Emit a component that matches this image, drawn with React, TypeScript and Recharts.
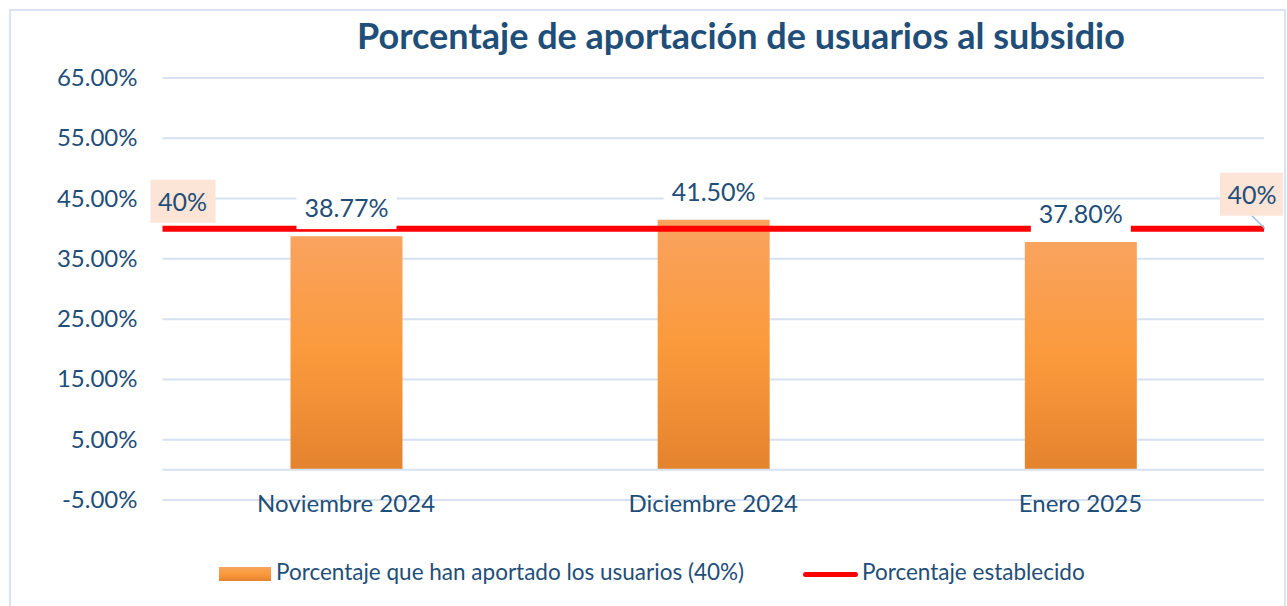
import React from "react";
import {
  BarChart,
  Bar,
  XAxis,
  YAxis,
  CartesianGrid,
  ReferenceLine,
  LabelList,
  Legend,
} from "recharts";

const meses = ["Noviembre 2024", "Diciembre 2024", "Enero 2025"];
const aportado = [38.77, 41.5, 37.8];
const establecido = [40];
const yTicks = [-5, 5, 15, 25, 35, 45, 55, 65];

const data = meses.map((mes, i) => ({ mes, aportado: aportado[i] }));

const azul = "#1F4E79";
const grid = "#D6E1F2";
const fuente = "Lato, 'Open Sans', sans-serif";

function EtiquetaBarra(props: any) {
  const { x, y, width, value } = props;
  const cx = x + width / 2;
  return (
    <g>
      <rect x={cx - 50} y={y - 41} width={100} height={34} fill="#FFFFFF" />
      <text
        x={cx}
        y={y - 28}
        dy={9}
        textAnchor="middle"
        fill={azul}
        fontSize={25}
        fontFamily={fuente}
      >
        {value.toFixed(2) + "%"}
      </text>
    </g>
  );
}

function EtiquetaMeta(props: any) {
  const { viewBox } = props;
  const x1 = viewBox.x;
  const x2 = viewBox.x + viewBox.width;
  const y = viewBox.y;
  const txt = establecido[0] + "%";
  return (
    <g>
      <rect x={x1 - 12} y={y - 49} width={65} height={43} fill="#FCE4D6" />
      <text x={x1 + 20} y={y - 27} dy={9} textAnchor="middle" fill={azul} fontSize={25} fontFamily={fuente}>
        {txt}
      </text>
      <line x1={x2 - 12} y1={y - 13} x2={x2 + 1} y2={y} stroke="#9DC3E6" strokeWidth={1.5} />
      <rect x={x2 - 44} y={y - 56} width={63} height={43} fill="#FCE4D6" />
      <text x={x2 - 12} y={y - 34} dy={9} textAnchor="middle" fill={azul} fontSize={25} fontFamily={fuente}>
        {txt}
      </text>
    </g>
  );
}

function TickX(props: any) {
  const { x, y, payload } = props;
  return (
    <text x={x} y={y} dy={12} textAnchor="middle" fill={azul} fontSize={24} fontFamily={fuente}>
      {payload.value}
    </text>
  );
}

function TickY(props: any) {
  const { x, y, payload } = props;
  return (
    <text x={x} y={y} dy={8} textAnchor="end" fill={azul} fontSize={24} fontFamily={fuente}>
      {payload.value.toFixed(2) + "%"}
    </text>
  );
}

function Leyenda() {
  return (
    <div style={{ position: "relative", height: 36, fontFamily: fuente, fontSize: 22.5, color: azul }}>
      <div
        style={{
          position: "absolute",
          left: 219,
          top: 9,
          width: 52,
          height: 14,
          background: "linear-gradient(#F9A35F, #FB9A3C 50%, #E4832E)",
        }}
      />
      <span style={{ position: "absolute", left: 276, top: 0, whiteSpace: "nowrap" }}>
        Porcentaje que han aportado los usuarios (40%)
      </span>
      <div
        style={{
          position: "absolute",
          left: 803,
          top: 14,
          width: 55,
          height: 5,
          borderRadius: 3,
          background: "#FF0000",
        }}
      />
      <span style={{ position: "absolute", left: 862, top: 0, whiteSpace: "nowrap" }}>
        Porcentaje establecido
      </span>
    </div>
  );
}

export default function App() {
  return (
    <div
      style={{
        position: "absolute",
        left: 0,
        top: 0,
        width: 1287,
        height: 606,
        background: "#FFFFFF",
        overflow: "hidden",
      }}
    >
      <div
        style={{
          position: "absolute",
          left: 9,
          top: 9,
          width: 1273,
          height: 620,
          border: "2px solid #DAE3F3",
        }}
      />
      <div
        style={{
          position: "absolute",
          left: 0,
          width: 1482,
          top: 13,
          textAlign: "center",
          fontFamily: fuente,
          fontWeight: 700,
          fontSize: 36,
          color: azul,
          whiteSpace: "nowrap",
        }}
      >
        Porcentaje de aportación de usuarios al subsidio
      </div>
      <BarChart
        width={1287}
        height={606}
        data={data}
        margin={{ top: 78, right: 23, bottom: 76, left: 0 }}
        style={{ position: "absolute", left: 0, top: 0 }}
      >
        <defs>
          <linearGradient id="naranja" x1="0" y1="0" x2="0" y2="1">
            <stop offset="0%" stopColor="#F9A35F" />
            <stop offset="50%" stopColor="#FB9A3C" />
            <stop offset="100%" stopColor="#E4832E" />
          </linearGradient>
        </defs>
        <CartesianGrid vertical={false} stroke={grid} strokeWidth={2} />
        <XAxis
          dataKey="mes"
          axisLine={false}
          tickLine={false}
          tickSize={0}
          tickMargin={0}
          height={30}
          tick={<TickX />}
        />
        <YAxis
          type="number"
          domain={[-5, 65]}
          ticks={yTicks}
          axisLine={false}
          tickLine={false}
          tickSize={0}
          tickMargin={25}
          width={162.5}
          tick={<TickY />}
        />
        <ReferenceLine y={0} stroke={grid} strokeWidth={2} />
        <Bar
          dataKey="aportado"
          name="Porcentaje que han aportado los usuarios (40%)"
          fill="url(#naranja)"
          barSize={112}
          isAnimationActive={false}
        >
          <LabelList dataKey="aportado" content={<EtiquetaBarra />} />
        </Bar>
        <ReferenceLine
          y={establecido[0]}
          stroke="#FF0000"
          strokeWidth={6}
          label={<EtiquetaMeta />}
        />
        <Legend
          layout="horizontal"
          verticalAlign="middle"
          align="center"
          wrapperStyle={{ left: 0, top: 558, width: 1287, height: 36 }}
          content={<Leyenda />}
        />
      </BarChart>
    </div>
  );
}
